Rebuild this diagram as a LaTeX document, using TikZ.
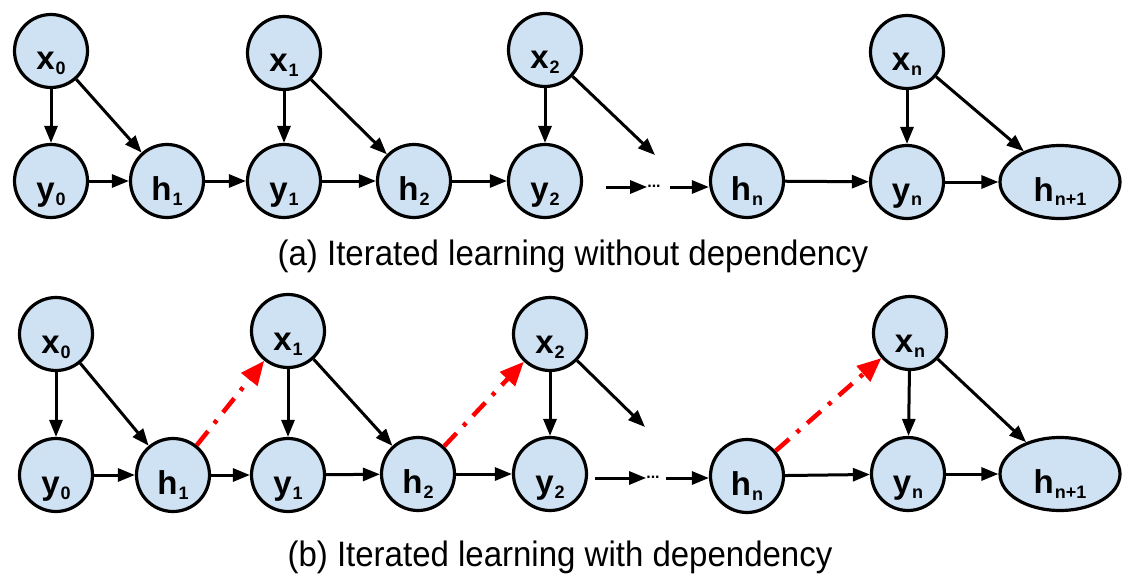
\documentclass[tikz,border=0pt]{standalone}
\usepackage{fontspec}
\setmainfont{Liberation Sans}
\usetikzlibrary{arrows.meta,shapes.geometric}
\definecolor{nodefill}{HTML}{CFE2F3}
\definecolor{depred}{HTML}{FF0000}
\newcommand{\lbl}[2]{\raisebox{-19pt}{#1\kern1pt\raisebox{-5pt}{\fontsize{18}{18}\selectfont #2}}}
\newcommand{\captext}[1]{\scalebox{1}[1.07]{#1}}
\begin{document}
\begin{tikzpicture}[x=1pt,y=-1pt,
  vnode/.style={circle, draw=black, line width=3.2pt, fill=nodefill, minimum size=73pt, inner sep=0pt, text height=0pt, text depth=0pt, font=\fontsize{33}{33}\selectfont\bfseries},
  enode/.style={ellipse, draw=black, line width=3.2pt, fill=nodefill, minimum width=120pt, minimum height=73pt, inner sep=0pt, text height=0pt, text depth=0pt, font=\fontsize{33}{33}\selectfont\bfseries},
  arr/.style={-{Triangle[length=17pt,width=13pt]}, line width=3pt, black},
  deparr/.style={-{Triangle[length=24pt,width=20pt]}, line width=4.5pt, depred, dash pattern=on 18pt off 10pt on 4pt off 10pt},
  captxt/.style={font=\fontsize{33}{33}\selectfont, anchor=base, inner sep=0pt},
  dotstxt/.style={font=\fontsize{16}{16}\selectfont\bfseries, inner sep=0pt}
]
\useasboundingbox (0,0) rectangle (1128,578);

% ---------- (a) ----------
\node[vnode] (x0A) at (51,51) {\lbl{x}{0}};
\node[vnode] (y0A) at (51,181) {\lbl{y}{0}};
\node[vnode] (h1A) at (167,181) {\lbl{h}{1}};
\node[vnode] (x1A) at (284,53) {\lbl{x}{1}};
\node[vnode] (y1A) at (284,181) {\lbl{y}{1}};
\node[vnode] (h2A) at (414,181) {\lbl{h}{2}};
\node[vnode] (x2A) at (545,50) {\lbl{x}{2}};
\node[vnode] (y2A) at (545,181) {\lbl{y}{2}};
\node[vnode] (hnA) at (747,181) {\lbl{h}{n}};
\node[vnode] (xnA) at (907,52) {\lbl{x}{n}};
\node[vnode] (ynA) at (907,182) {\lbl{y}{n}};
\node[enode] (hn1A) at (1060,182) {\lbl{h}{n+1}};
\coordinate (sA) at (606,187);
\node[dotstxt] (dA) at (654,186) {...};
\coordinate (tA) at (670,187);
\coordinate (eA) at (655,155);

\draw[arr] (x0A) -- (y0A);
\draw[arr] (x0A) -- (h1A);
\draw[arr] (y0A) -- (h1A);
\draw[arr] (h1A) -- (y1A);
\draw[arr] (x1A) -- (y1A);
\draw[arr] (x1A) -- (h2A);
\draw[arr] (y1A) -- (h2A);
\draw[arr] (h2A) -- (y2A);
\draw[arr] (x2A) -- (y2A);
\draw[arr] (x2A) -- (eA);
\draw[arr] (sA) -- (sA -| dA.west);
\draw[arr] (tA) -- (hnA.west |- tA);
\draw[arr] (hnA) -- (ynA);
\draw[arr] (xnA) -- (ynA);
\draw[arr] (xnA) -- (hn1A);
\draw[arr] (ynA) -- (hn1A);

\node[captxt] (capA) at (573,265) {\captext{(a) Iterated learning without dependency}};

% ---------- (b) ----------
\node[vnode] (x0B) at (56,334) {\lbl{x}{0}};
\node[vnode] (y0B) at (56,475) {\lbl{y}{0}};
\node[vnode] (h1B) at (173,475) {\lbl{h}{1}};
\node[vnode] (x1B) at (288,331) {\lbl{x}{1}};
\node[vnode] (y1B) at (288,475) {\lbl{y}{1}};
\node[vnode] (h2B) at (418,474) {\lbl{h}{2}};
\node[vnode] (x2B) at (550,334) {\lbl{x}{2}};
\node[vnode] (y2B) at (550,474) {\lbl{y}{2}};
\node[vnode] (hnB) at (747,476) {\lbl{h}{n}};
\node[vnode] (xnB) at (910,333) {\lbl{x}{n}};
\node[vnode] (ynB) at (908,474) {\lbl{y}{n}};
\node[enode] (hn1B) at (1060,474) {\lbl{h}{n+1}};
\coordinate (sB) at (595,478);
\node[dotstxt] (dB) at (653,477) {...};
\coordinate (tB) at (666,478);
\coordinate (eB) at (645,427);

\draw[arr] (x0B) -- (y0B);
\draw[arr] (x0B) -- (h1B);
\draw[arr] (y0B) -- (h1B);
\draw[arr] (h1B) -- (y1B);
\draw[arr] (x1B) -- (y1B);
\draw[arr] (x1B) -- (h2B);
\draw[arr] (y1B) -- (h2B);
\draw[arr] (h2B) -- (y2B);
\draw[arr] (x2B) -- (y2B);
\draw[arr] (x2B) -- (eB);
\draw[arr] (sB) -- (sB -| dB.west);
\draw[arr] (tB) -- (hnB.west |- tB);
\draw[arr] (hnB) -- (ynB);
\draw[arr] (xnB) -- (ynB);
\draw[arr] (xnB) -- (hn1B);
\draw[arr] (ynB) -- (hn1B);

\draw[deparr] (h1B) -- (x1B);
\draw[deparr] (h2B) -- (x2B);
\draw[deparr] (hnB) -- (xnB);

\node[captxt] (capB) at (560,566) {\captext{(b) Iterated learning with dependency}};
\end{tikzpicture}
\end{document}
